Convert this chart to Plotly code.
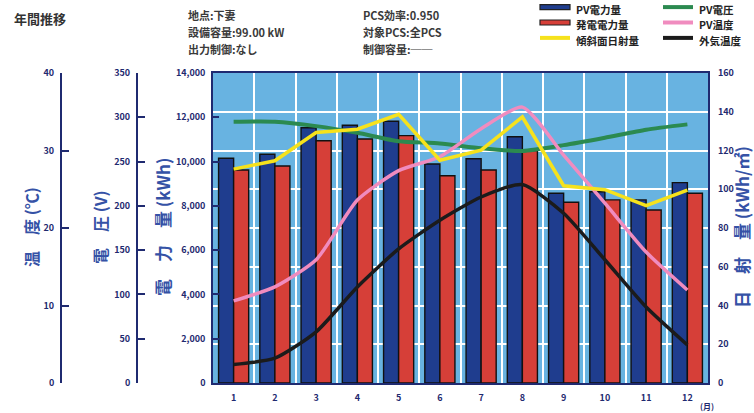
import plotly.graph_objects as go

months = list(range(1, 13))
month_labels = [str(m) for m in months]

pv_energy = [10150, 10330, 11530, 11640, 11820, 9890, 10130, 11120, 8570, 8640, 8270, 9050]
gen_energy = [9620, 9800, 10940, 11020, 11170, 9360, 9620, 10500, 8160, 8270, 7810, 8570]
irradiance = [110.4, 114.7, 129.3, 131.0, 138.7, 115.0, 120.2, 137.3, 101.8, 99.8, 91.6, 99.6]
pv_voltage = [295, 295, 290, 282.5, 273, 270.5, 265, 262, 268.6, 277, 286, 292]
pv_temp = [10.6, 12.4, 15.9, 23.6, 27.4, 29.2, 32.8, 35.6, 29.4, 23.2, 16.9, 12.0]
air_temp = [2.4, 3.2, 6.6, 12.4, 17.3, 21.0, 24.0, 25.6, 21.9, 15.9, 9.8, 4.9]

temp_ticks = [0, 10, 20, 30, 40]
volt_ticks = [0, 50, 100, 150, 200, 250, 300, 350]
power_ticks = [0, 2000, 4000, 6000, 8000, 10000, 12000, 14000]
irr_ticks = [0, 20, 40, 60, 80, 100, 120, 140, 160]

W, H = 754, 413
NAVY = "#1f2a70"
TITLE_BLUE = "#3552a6"
BLUE = "#1f3d8e"
RED = "#d63f38"
YELLOW = "#f6e21c"
GREEN = "#2b8a50"
PINK = "#f08cbf"
BLACK = "#1b1b1b"
FONT = "Noto Sans CJK JP"

x0, x1 = 213 / W, 708 / W
y0, y1 = 1 - 383 / H, 1 - 73 / H


def px(x):
    return x / W


def py(y):
    return 1 - y / H


fig = go.Figure()

fig.add_trace(go.Bar(x=months, y=pv_energy, name="PV電力量", marker=dict(color=BLUE, line=dict(color="#111111", width=1.4)),
                     showlegend=False, yaxis="y"))
fig.add_trace(go.Bar(x=months, y=gen_energy, name="発電電力量", marker=dict(color=RED, line=dict(color="#111111", width=1.4)),
                     showlegend=False, yaxis="y"))
fig.add_trace(go.Scatter(x=months, y=irradiance, mode="lines", line=dict(color=YELLOW, width=3.5),
                         name="傾斜面日射量", showlegend=False, yaxis="y4"))
fig.add_trace(go.Scatter(x=months, y=pv_voltage, mode="lines", line=dict(color=GREEN, width=4, shape="spline", smoothing=0.6),
                         name="PV電圧", showlegend=False, yaxis="y2"))
fig.add_trace(go.Scatter(x=months, y=pv_temp, mode="lines", line=dict(color=PINK, width=3.5, shape="spline", smoothing=0.6),
                         name="PV温度", showlegend=False, yaxis="y3"))
fig.add_trace(go.Scatter(x=months, y=air_temp, mode="lines", line=dict(color=BLACK, width=3.5, shape="spline", smoothing=0.6),
                         name="外気温度", showlegend=False, yaxis="y3"))

tick_font = dict(family=FONT, size=9, color=NAVY, weight="bold")

fig.update_layout(
    width=W, height=H,
    margin=dict(l=0, r=0, t=0, b=0, autoexpand=False),
    paper_bgcolor="white",
    plot_bgcolor="#68b3e1",
    barmode="group", bargap=0.27, bargroupgap=0,
    font=dict(family=FONT),
    showlegend=False,
    xaxis=dict(domain=[x0, x1], range=[0.5, 12.5], tickvals=months, ticktext=month_labels, automargin=False,
               showgrid=False, zeroline=False, showline=True, linecolor=NAVY, linewidth=1.5, mirror=True,
               ticks="", tickfont=tick_font, ticklabelstandoff=5,
               minor=dict(tick0=0.5, dtick=1, showgrid=True, gridcolor="white", gridwidth=2, ticks="")),
    yaxis=dict(domain=[y0, y1], range=[0, 14000], tickvals=power_ticks, tickformat=",d", automargin=False,
               showgrid=False, zeroline=False, showline=True, linecolor=NAVY, linewidth=1.5, mirror=True,
               ticks="inside", ticklen=6, tickcolor=NAVY, tickwidth=1.5, tickfont=tick_font, ticklabelstandoff=4),
    yaxis2=dict(range=[0, 350], tickvals=volt_ticks, overlaying="y", anchor="free", position=137 / W, side="left",
                automargin=False,
                showgrid=False, zeroline=False, showline=True, linecolor=NAVY, linewidth=2,
                ticks="inside", ticklen=7, tickcolor=NAVY, tickwidth=1.5, tickfont=tick_font, ticklabelstandoff=4),
    yaxis3=dict(range=[0, 40], tickvals=temp_ticks, overlaying="y", anchor="free", position=61 / W, side="left",
                automargin=False,
                showgrid=False, zeroline=False, showline=True, linecolor=NAVY, linewidth=2,
                ticks="inside", ticklen=7, tickcolor=NAVY, tickwidth=1.5, tickfont=tick_font, ticklabelstandoff=4),
    yaxis4=dict(range=[0, 160], tickvals=irr_ticks, overlaying="y", anchor="x", side="right", automargin=False,
                showgrid=True, gridcolor="white", gridwidth=2, zeroline=False, showline=False,
                ticks="", tickfont=tick_font, ticklabelstandoff=9),
)

ann = []
shapes = []
ann.append(dict(text="<b>年間推移</b>", x=px(12), y=py(18), xref="paper", yref="paper", xanchor="left",
                yanchor="middle", showarrow=False, font=dict(family=FONT, size=13, color="#333333")))
info_left = ["地点:下妻", "設備容量:99.00 kW", "出力制御:なし"]
info_right = ["PCS効率:0.950", "対象PCS:全PCS", "制御容量:──"]
for i, t in enumerate(info_left):
    ann.append(dict(text=t, x=px(186), y=py(15 + 17 * i), xref="paper", yref="paper", xanchor="left",
                    yanchor="middle", showarrow=False, font=dict(family=FONT, size=11, color="#3a3a3a", weight="bold")))
for i, t in enumerate(info_right):
    ann.append(dict(text=t, x=px(361), y=py(15 + 17 * i), xref="paper", yref="paper", xanchor="left",
                    yanchor="middle", showarrow=False, font=dict(family=FONT, size=11, color="#3a3a3a", weight="bold")))

SP = "\u3000"
titles = [("温" + SP + "度" + " (℃)", 31, 16), ("電" + SP + "圧" + " (V)", 100, 16),
          ("電" + SP + "力" + SP + "量" + " (kWh)", 163, 17), ("日" + SP + "射" + SP + "量" + " (kWh/㎡)", 742, 17)]
for t, xp, fs in titles:
    ann.append(dict(text=t, x=px(xp), y=py(227), xref="paper", yref="paper", xanchor="center",
                    yanchor="middle", textangle=-90, showarrow=False,
                    font=dict(family=FONT, size=fs, color=TITLE_BLUE, weight="bold")))
ann.append(dict(text="(月)", x=px(707), y=py(406), xref="paper", yref="paper", xanchor="center",
                yanchor="middle", showarrow=False, font=dict(family=FONT, size=8, color=NAVY, weight="bold")))

# legend (manual, two columns)
leg_font = dict(family=FONT, size=10.5, color="#222222", weight="bold")
LEG_CENTER = 25
ROW = 15.4
col1 = [("PV電力量", BLUE, "rect"), ("発電電力量", RED, "rect"), ("傾斜面日射量", YELLOW, "line")]
col2 = [("PV電圧", GREEN, "line"), ("PV温度", PINK, "line"), ("外気温度", BLACK, "line")]
for items, lx in ((col1, 540), (col2, 663)):
    for i, (name, col, kind) in enumerate(items):
        ty = LEG_CENTER + (i - 1) * ROW
        sy = ty - 2.5
        if kind == "rect":
            shapes.append(dict(type="rect", xref="paper", yref="paper", x0=px(lx), x1=px(lx + 30),
                               y0=py(sy + 2.5), y1=py(sy - 2.5), fillcolor=col, line=dict(color="#222222", width=1.2)))
        else:
            shapes.append(dict(type="line", xref="paper", yref="paper", x0=px(lx), x1=px(lx + 30),
                               y0=py(sy), y1=py(sy), line=dict(color=col, width=4)))
        ann.append(dict(text=name, x=px(lx + 34), y=py(ty), xref="paper", yref="paper", xanchor="left",
                        yanchor="middle", showarrow=False, font=leg_font))

fig.update_layout(annotations=ann, shapes=shapes)

fig.write_html("out.html", config={"displayModeBar": False},
               post_script="document.body.style.margin='0';document.body.style.padding='0';")
